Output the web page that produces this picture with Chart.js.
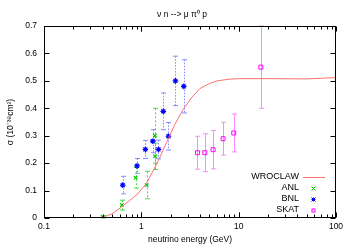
<!DOCTYPE html>
<html>
<head>
<meta charset="utf-8">
<script src="https://cdn.jsdelivr.net/npm/chart.js@4/dist/chart.umd.min.js"></script>
<style>
html,body{margin:0;padding:0;background:#fff;}
#wrap{width:350px;height:245px;position:relative;}
</style>
</head>
<body>
<div id="wrap"><canvas id="c" width="350" height="245"></canvas></div>
<script>
// ---- data ----
const wroclawE = [0.33, 0.4, 0.5, 0.63, 0.9, 1.13, 1.5, 1.83, 2.2, 2.7, 3.3, 4.0, 5.0, 6.0, 8.0, 10, 20, 50, 100];
const wroclawS = [0, 0.003, 0.015, 0.041, 0.085, 0.126, 0.21, 0.278, 0.34, 0.397, 0.44, 0.472, 0.49, 0.50, 0.506, 0.508, 0.508, 0.507, 0.512];

const anlE = [0.40, 0.63, 0.875, 1.135, 1.38, 1.38];
const anlS = [0.004, 0.047, 0.147, 0.12, 0.30, 0.225];
const anlErr = [0.004, 0.018, 0.038, 0.05, 0.10, 0.048];

const bnlE = [0.644, 0.903, 1.10, 1.31, 1.50, 1.68, 1.90, 2.24, 2.73];
const bnlS = [0.12, 0.19, 0.25, 0.28, 0.25, 0.389, 0.298, 0.50, 0.48];
const bnlErr = [0.032, 0.027, 0.033, 0.042, 0.034, 0.067, 0.05, 0.09, 0.097];

const skatE = [3.77, 4.49, 5.46, 6.92, 8.9, 16.9];
const skatS = [0.238, 0.238, 0.249, 0.289, 0.31, 0.55];
const skatErr = [0.06, 0.069, 0.07, 0.06, 0.069, 0.15];

const xTickLabels = [0.1, 1, 10, 100];
const yTickLabels = [0, 0.1, 0.2, 0.3, 0.4, 0.5, 0.6, 0.7];

const titleText = 'ν n --> μ π⁰ p';
const xTitle = 'neutrino energy (GeV)';
const yTitle = 'σ (10⁻³⁸cm²)';

const FONT = "'Liberation Sans', Arial, Helvetica, sans-serif";

function pts(E, S) { return E.map((e, i) => ({x: e, y: S[i]})); }

const styles = {
  WROCLAW: {color: '#ff7070'},
  ANL: {color: '#00cc00', bar: '#44dd44', dash: [2, 2]},
  BNL: {color: '#0000ff', bar: '#8888ff', dash: [1.5, 1.5]},
  SKAT: {color: '#ff00ff', bar: '#ff88ff', dash: []}
};

const datasets = [
  {label: 'WROCLAW', data: pts(wroclawE, wroclawS), showLine: true, borderColor: styles.WROCLAW.color, borderWidth: 1, pointRadius: 0, tension: 0, fill: false},
  {label: 'ANL', data: pts(anlE, anlS), err: anlErr, pointStyle: 'crossRot', pointRadius: 2.5, borderColor: styles.ANL.color, backgroundColor: styles.ANL.color, borderWidth: 1.2},
  {label: 'BNL', data: pts(bnlE, bnlS), err: bnlErr, pointStyle: 'star', pointRadius: 2.8, borderColor: styles.BNL.color, backgroundColor: styles.BNL.color, borderWidth: 1.2},
  {label: 'SKAT', data: pts(skatE, skatS), err: skatErr, pointStyle: 'rect', pointRadius: 2.8, borderColor: styles.SKAT.color, backgroundColor: 'rgba(0,0,0,0)', borderWidth: 1}
];

const errorBars = {
  id: 'errorBars',
  beforeDatasetsDraw(chart) {
    const ctx = chart.ctx, xs = chart.scales.x, ys = chart.scales.y;
    ctx.save();
    chart.data.datasets.forEach(ds => {
      if (!ds.err) return;
      const st = styles[ds.label];
      ctx.strokeStyle = st.bar;
      ctx.lineWidth = 1;
      ds.data.forEach((p, i) => {
        const x = Math.round(xs.getPixelForValue(p.x)) + 0.5;
        const yt = ys.getPixelForValue(p.y + ds.err[i]);
        const yb = ys.getPixelForValue(Math.max(0, p.y - ds.err[i]));
        ctx.setLineDash(st.dash);
        ctx.beginPath(); ctx.moveTo(x, yt); ctx.lineTo(x, yb); ctx.stroke();
        ctx.setLineDash([]);
        ctx.beginPath();
        ctx.moveTo(x - 2.5, yt); ctx.lineTo(x + 2.5, yt);
        ctx.moveTo(x - 2.5, yb); ctx.lineTo(x + 2.5, yb);
        ctx.stroke();
      });
    });
    ctx.restore();
  }
};

function drawMarker(ctx, style, x, y, r, color) {
  ctx.strokeStyle = color; ctx.fillStyle = color; ctx.lineWidth = 1;
  ctx.beginPath();
  if (style === 'crossRot') {
    ctx.moveTo(x - r, y - r); ctx.lineTo(x + r, y + r);
    ctx.moveTo(x - r, y + r); ctx.lineTo(x + r, y - r);
    ctx.stroke();
  } else if (style === 'star') {
    ctx.moveTo(x - r, y - r); ctx.lineTo(x + r, y + r);
    ctx.moveTo(x - r, y + r); ctx.lineTo(x + r, y - r);
    ctx.moveTo(x - r, y); ctx.lineTo(x + r, y);
    ctx.moveTo(x, y - r); ctx.lineTo(x, y + r);
    ctx.stroke();
  } else if (style === 'rect') {
    ctx.strokeRect(x - r + 0.5, y - r + 0.5, 2 * r - 1, 2 * r - 1);
  }
}

const frameTicks = {
  id: 'frameTicks',
  afterDraw(chart) {
    const ctx = chart.ctx, a = chart.chartArea, xs = chart.scales.x, ys = chart.scales.y;
    ctx.save();
    ctx.strokeStyle = '#000';
    ctx.lineWidth = 1;
    const L = Math.round(a.left) + 0.5, R = Math.round(a.right) - 0.5;
    const T = Math.round(a.top) + 0.5, B = Math.round(a.bottom) - 0.5;
    ctx.strokeRect(L, T, R - L, B - T);
    ctx.beginPath();
    [0.1, 1, 10].forEach(d => {
      for (let k = 1; k <= 10; k++) {
        const v = d * k;
        const px = Math.round(xs.getPixelForValue(v)) + 0.5;
        const len = (k === 1 || k === 10) ? 5 : 3;
        ctx.moveTo(px, B); ctx.lineTo(px, B - len);
        ctx.moveTo(px, T); ctx.lineTo(px, T + len);
      }
    });
    yTickLabels.forEach(v => {
      const py = Math.round(ys.getPixelForValue(v)) + 0.5;
      ctx.moveTo(L, py); ctx.lineTo(L + 5, py);
      ctx.moveTo(R, py); ctx.lineTo(R - 5, py);
    });
    ctx.stroke();

    // title
    ctx.fillStyle = '#000';
    ctx.font = '8.5px ' + FONT;
    ctx.textAlign = 'center';
    ctx.textBaseline = 'middle';
    ctx.fillText(titleText, 182, 15);

    // legend
    ctx.font = '9px ' + FONT;
    ctx.textAlign = 'right';
    const rows = [177, 188, 199, 210];
    chart.data.datasets.forEach((ds, i) => {
      const y = rows[i];
      ctx.fillStyle = '#000';
      ctx.fillText(ds.label, 299, y);
      if (i === 0) {
        ctx.strokeStyle = ds.borderColor; ctx.lineWidth = 1;
        ctx.beginPath(); ctx.moveTo(303, y + 0.5); ctx.lineTo(325, y + 0.5); ctx.stroke();
      } else {
        drawMarker(ctx, ds.pointStyle, 313.5, y + 0.5, 2, ds.borderColor);
      }
    });
    ctx.restore();
  }
};

new Chart(document.getElementById('c'), {
  type: 'scatter',
  data: {datasets},
  options: {
    responsive: false,
    animation: false,
    devicePixelRatio: 1,
    layout: {padding: {left: 0, right: 14, top: 26, bottom: 0}},
    plugins: {
      legend: {display: false},
      tooltip: {enabled: false},
      title: {display: false, text: titleText}
    },
    scales: {
      x: {
        type: 'logarithmic', min: 0.1, max: 100,
        grid: {display: false, drawTicks: false}, border: {display: false},
        afterBuildTicks(s) { s.ticks = xTickLabels.map(v => ({value: v})); },
        afterFit(s) { s.height = 27; },
        ticks: {autoSkip: false, maxRotation: 0, padding: 4, color: '#000', font: {family: FONT, size: 8.5}, callback: v => String(v)},
        title: {display: true, text: xTitle, color: '#000', font: {family: FONT, size: 8.5}, padding: {top: 0, bottom: 0}}
      },
      y: {
        type: 'linear', min: 0, max: 0.7,
        grid: {display: false, drawTicks: false}, border: {display: false},
        afterBuildTicks(s) { s.ticks = yTickLabels.map(v => ({value: v})); },
        afterFit(s) { s.width = 44; },
        ticks: {padding: 7, color: '#000', font: {family: FONT, size: 8.5}, callback: v => String(Number(v.toFixed(1)))},
        title: {display: true, text: yTitle, color: '#000', font: {family: FONT, size: 8.5}, padding: {top: 6, bottom: 0}}
      }
    }
  },
  plugins: [errorBars, frameTicks]
});
</script>
</body>
</html>
